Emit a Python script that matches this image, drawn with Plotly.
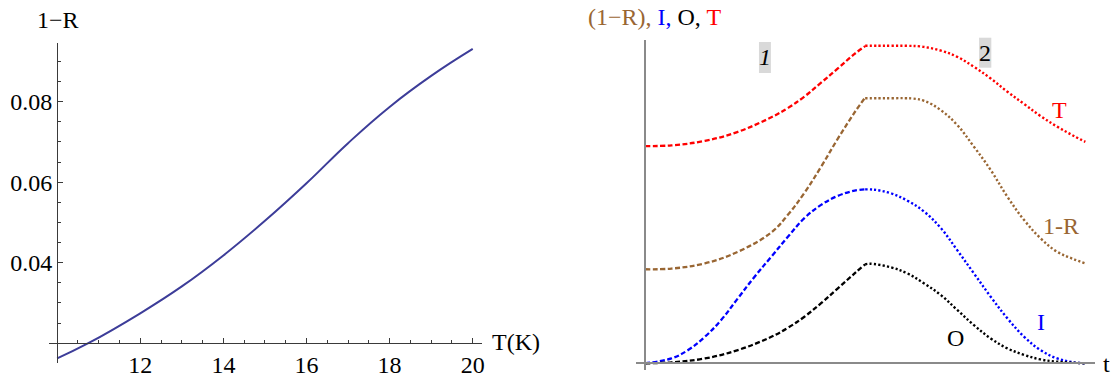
import plotly.graph_objects as go

# ---- left panel: 1-R versus temperature ----
temp_k = [10.0, 10.75, 12.0, 13.0, 14.0, 15.0, 16.0, 17.0, 18.0, 19.0, 20.0]
one_minus_r = [0.01625, 0.0200, 0.02743, 0.03410, 0.04180, 0.05040, 0.05973,
               0.06970, 0.07870, 0.08640, 0.0931]
left_xticks = [12, 14, 16, 18, 20]
left_yticks = [0.04, 0.06, 0.08]
left_yticklabels = ["0.04", "0.06", "0.08"]

# ---- right panel: time profiles, stage 1 (rise) and stage 2 (fall) ----
t_rise = [0.0, 0.060, 0.136, 0.211, 0.287, 0.325, 0.362, 0.400, 0.438, 0.476, 0.5]
T_rise = [0.672, 0.674, 0.688, 0.716, 0.761, 0.790, 0.825, 0.868, 0.912, 0.957, 0.981]
R_rise = [0.291, 0.293, 0.309, 0.345, 0.405, 0.460, 0.527, 0.608, 0.695, 0.776, 0.822]

t_rise_i = [0.0, 0.060, 0.098, 0.136, 0.173, 0.211, 0.249, 0.287, 0.325, 0.362,
            0.400, 0.438, 0.476, 0.5]
I_rise = [0.0, 0.015, 0.041, 0.082, 0.134, 0.201, 0.268, 0.330, 0.392, 0.449,
          0.490, 0.518, 0.534, 0.538]

t_rise_o = [0.0, 0.060, 0.136, 0.211, 0.287, 0.325, 0.362, 0.400, 0.438, 0.476, 0.5]
O_rise = [0.0, 0.003, 0.015, 0.041, 0.082, 0.110, 0.144, 0.186, 0.232, 0.278, 0.306]

t_fall_T = [0.5, 0.530, 0.560, 0.595, 0.626, 0.672, 0.709, 0.747, 0.785, 0.823,
            0.861, 0.898, 0.936, 0.974, 1.0]
T_fall = [0.982, 0.982, 0.982, 0.982, 0.980, 0.967, 0.948, 0.917, 0.881, 0.840,
          0.802, 0.765, 0.732, 0.703, 0.685]

t_fall_R = [0.5, 0.530, 0.560, 0.590, 0.608, 0.634, 0.672, 0.709, 0.747, 0.785,
            0.823, 0.861, 0.898, 0.936, 0.974, 1.0]
R_fall = [0.820, 0.820, 0.820, 0.820, 0.819, 0.812, 0.783, 0.737, 0.670, 0.598,
          0.515, 0.443, 0.387, 0.345, 0.322, 0.309]

t_fall_I = [0.5, 0.521, 0.558, 0.596, 0.634, 0.672, 0.709, 0.747, 0.785, 0.823,
            0.861, 0.898, 0.936, 0.974, 1.0]
I_fall = [0.538, 0.537, 0.526, 0.503, 0.469, 0.418, 0.350, 0.278, 0.206, 0.139,
          0.082, 0.041, 0.015, 0.003, 0.0]

t_fall_O = [0.5, 0.510, 0.558, 0.596, 0.634, 0.672, 0.709, 0.747, 0.785, 0.823,
            0.861, 0.898, 0.936, 1.0]
O_fall = [0.306, 0.308, 0.297, 0.278, 0.247, 0.211, 0.165, 0.118, 0.077, 0.046,
          0.026, 0.012, 0.005, 0.0]

W, H = 1115, 379
FONT = "Liberation Serif, Times New Roman, serif"
BROWN = "#996633"


def px_x(p):
    return p / W


def px_y(p):
    return 1 - p / H


fig = go.Figure()

fig.add_trace(go.Scatter(x=temp_k, y=one_minus_r, mode="lines",
                         line=dict(color="#3d3d99", width=2, shape="spline", smoothing=1.3),
                         xaxis="x", yaxis="y", showlegend=False))

rise_dash = "5px,2.5px"
fall_dash = "2.2px,2.2px"
series = [
    (t_rise, T_rise, t_fall_T, T_fall, "#ff0000"),
    (t_rise, R_rise, t_fall_R, R_fall, BROWN),
    (t_rise_i, I_rise, t_fall_I, I_fall, "#0000ff"),
    (t_rise_o, O_rise, t_fall_O, O_fall, "#000000"),
]
for tr, yr, tf, yf, col in series:
    fig.add_trace(go.Scatter(x=tr, y=yr, mode="lines",
                             line=dict(color=col, width=2.3, dash=rise_dash,
                                       shape="spline", smoothing=1.1),
                             xaxis="x2", yaxis="y2", showlegend=False))
    fig.add_trace(go.Scatter(x=tf, y=yf, mode="lines",
                             line=dict(color=col, width=2.4, dash=fall_dash,
                                       shape="spline", smoothing=1.1),
                             xaxis="x2", yaxis="y2", showlegend=False))

left_axis_col = "#3a3a3a"
right_axis_col = "#8a8a8a"

fig.update_layout(
    width=W, height=H,
    margin=dict(l=0, r=0, t=0, b=0),
    paper_bgcolor="white", plot_bgcolor="white",
    font=dict(family=FONT, size=24),
    xaxis=dict(domain=[px_x(49.3), px_x(483)], range=[9.808, 20.216],
               anchor="free", position=px_y(343.2),
               showline=True, linecolor=left_axis_col, linewidth=1,
               showgrid=False, zeroline=False,
               tickvals=left_xticks, ticks="inside", ticklen=5, tickcolor=left_axis_col,
               minor=dict(dtick=0.5, tick0=10, ticks="inside", ticklen=3,
                          tickcolor=left_axis_col, showgrid=False),
               tickfont=dict(family=FONT, size=24, color="black")),
    yaxis=dict(domain=[px_y(363), px_y(43)], range=[0.01508, 0.09458],
               anchor="free", position=px_x(57.3),
               showline=True, linecolor=left_axis_col, linewidth=1,
               showgrid=False, zeroline=False,
               tickvals=left_yticks, ticktext=left_yticklabels,
               ticks="inside", ticklen=5, tickcolor=left_axis_col,
               minor=dict(dtick=0.005, tick0=0, ticks="inside", ticklen=3,
                          tickcolor=left_axis_col, showgrid=False),
               tickfont=dict(family=FONT, size=24, color="black")),
    xaxis2=dict(domain=[px_x(638), px_x(1098)], range=[-0.0197, 1.022],
                anchor="free", position=px_y(363.3),
                showline=True, linecolor=right_axis_col, linewidth=1.5,
                showgrid=False, zeroline=False, showticklabels=False, ticks=""),
    yaxis2=dict(domain=[px_y(370), px_y(40)], range=[-0.0207, 1.0],
                anchor="free", position=px_x(646.7),
                showline=True, linecolor=right_axis_col, linewidth=1.5,
                showgrid=False, zeroline=False, showticklabels=False, ticks=""),
)


def label(x, y, text, color="black", xanchor="center"):
    fig.add_annotation(x=px_x(x), y=px_y(y), xref="paper", yref="paper",
                       text=text, showarrow=False, xanchor=xanchor, yanchor="middle",
                       font=dict(family=FONT, size=24, color=color))


# axis labels, left panel
label(58, 20, "1\u2212R")
label(491, 342, "T(K)", xanchor="left")

# axis label, right panel, coloured per quantity
label(588, 17,
      f"<span style='color:{BROWN}'>(1\u2212R),</span> "
      "<span style='color:blue'>I,</span> O, "
      "<span style='color:red'>T</span>",
      xanchor="left")
label(1104, 364, "t", xanchor="left")

# curve labels
label(1062, 110, "T", color="red")
label(1064, 226, "1-R", color=BROWN)
label(1043.5, 322, "I", color="blue")
label(958, 338, "O")

# stage markers on grey tabs
for x0, x1, y0, y1 in [(761, 773, 42, 73), (981.7, 994, 37.7, 67.7)]:
    fig.add_shape(type="rect", xref="paper", yref="paper",
                  x0=px_x(x0), x1=px_x(x1), y0=px_y(y1), y1=px_y(y0),
                  fillcolor="#d9d9d9", line=dict(width=0), layer="below")
label(767, 57, "<i>1</i>")
label(988, 52.7, "2")

fig.write_html("out.html")
